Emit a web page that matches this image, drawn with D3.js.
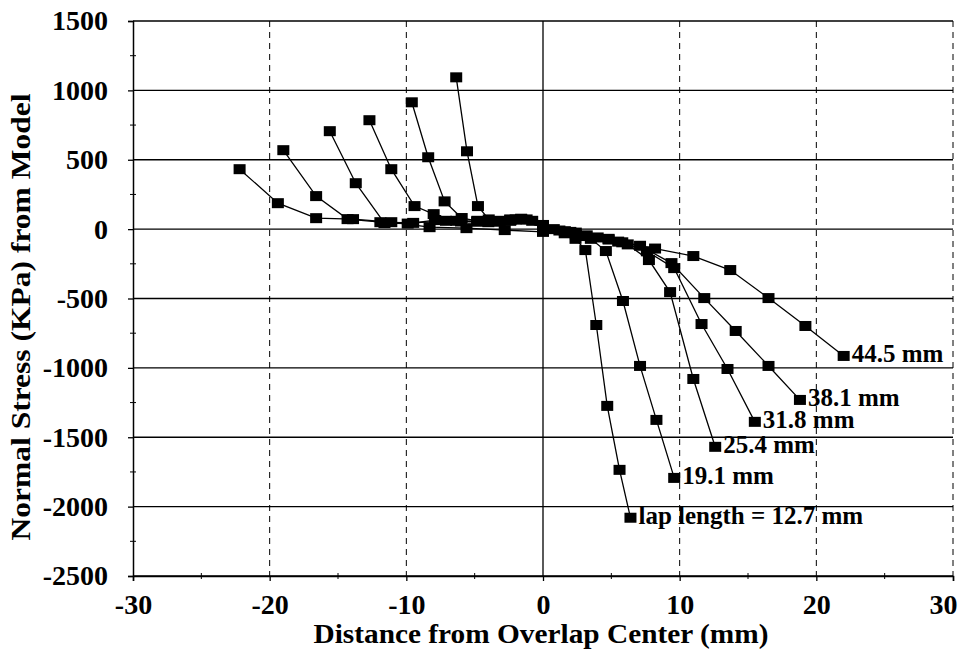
<!DOCTYPE html>
<html>
<head>
<meta charset="utf-8">
<script src="https://cdn.jsdelivr.net/npm/d3@7"></script>
<style>
  body { margin: 0; background: #fff; }
  svg text { font-family: "Liberation Serif", "Times New Roman", serif; font-weight: bold; fill: #000; }
</style>
</head>
<body>
<svg id="chart" width="965" height="656"></svg>
<script>
// --- data (x in mm, normal stress in KPa) ---
const lapLabels = ["lap length = 12.7 mm", "19.1 mm", "25.4 mm", "31.8 mm", "38.1 mm", "44.5 mm"];

const x_12_7 = [-6.35, -5.56, -4.76, -3.97, -3.18, -2.38, -1.59, -0.79, 0, 0.79, 1.59, 2.38, 3.1, 3.9, 4.7, 5.6, 6.4];
const s_12_7 = [1094, 561, 166, 70, 55, 65, 70, 60, 30, 0, -30, -70, -151, -691, -1274, -1735, -2080];

const x_19_1 = [-9.6, -8.4, -7.2, -5.95, -4.8, -3.6, -2.4, -1.2, 0, 1.2, 2.4, 3.5, 4.6, 5.85, 7.1, 8.3, 9.6];
const s_19_1 = [914, 518, 200, 80, 60, 55, 60, 70, 25, -10, -40, -70, -158, -518, -986, -1375, -1793];

const x_25_4 = [-12.7, -11.1, -9.4, -8.0, -6.35, -4.8, -3.2, -1.6, 0, 1.6, 3.2, 4.8, 6.2, 7.75, 9.3, 11.0, 12.6];
const s_25_4 = [785, 432, 166, 108, 60, 55, 60, 75, 20, -15, -45, -75, -110, -223, -454, -1080, -1569];

const x_31_8 = [-15.6, -13.7, -11.6, -9.9, -7.9, -6.0, -4.0, -2.0, 0, 2.0, 4.0, 5.8, 7.6, 9.6, 11.6, 13.5, 15.5];
const s_31_8 = [706, 331, 43, 40, 65, 55, 50, 70, 15, -20, -60, -95, -160, -281, -684, -1008, -1389];

const x_38_1 = [-19.0, -16.6, -14.3, -11.9, -9.5, -7.1, -4.8, -2.4, 0, 2.4, 4.8, 7.1, 9.4, 11.8, 14.1, 16.5, 18.8];
const s_38_1 = [569, 238, 72, 50, 45, 60, 55, 70, 20, -25, -70, -120, -245, -497, -734, -986, -1231];

const x_44_5 = [-22.2, -19.4, -16.6, -13.9, -11.1, -8.3, -5.6, -2.8, 0, 2.8, 5.5, 8.2, 11.0, 13.7, 16.5, 19.2, 22.0];
const s_44_5 = [432, 187, 79, 72, 50, 14, 7, -7, -20, -50, -90, -140, -194, -295, -497, -698, -914];

const xTicks = [-30, -20, -10, 0, 10, 20, 30];
const yTicks = [-2500, -2000, -1500, -1000, -500, 0, 500, 1000, 1500];

const series = [
  { label: lapLabels[0], xs: x_12_7, ys: s_12_7 },
  { label: lapLabels[1], xs: x_19_1, ys: s_19_1 },
  { label: lapLabels[2], xs: x_25_4, ys: s_25_4 },
  { label: lapLabels[3], xs: x_31_8, ys: s_31_8 },
  { label: lapLabels[4], xs: x_38_1, ys: s_38_1 },
  { label: lapLabels[5], xs: x_44_5, ys: s_44_5 }
];

// --- layout ---
const svg = d3.select("#chart");
const plot = { left: 133, right: 953, top: 21, bottom: 576 };

const x = d3.scaleLinear().domain([-30, 30]).range([plot.left, plot.right]);
const y = d3.scaleLinear().domain([-2500, 1500]).range([plot.bottom, plot.top]);

// --- grid ---
const grid = svg.append("g");
grid.selectAll(".hgrid").data(yTicks).join("line")
    .attr("x1", plot.left).attr("x2", plot.right)
    .attr("y1", d => y(d)).attr("y2", d => y(d))
    .attr("stroke", "#000").attr("stroke-width", 1.3);

grid.selectAll(".vgrid").data(xTicks.filter(d => d !== -30)).join("line")
    .attr("x1", d => x(d)).attr("x2", d => x(d))
    .attr("y1", plot.top).attr("y2", plot.bottom)
    .attr("stroke", "#000")
    .attr("stroke-width", d => d === 0 ? 1.3 : 1)
    .attr("stroke-dasharray", d => d === 0 ? null : "6,5");

// --- axes ---
const yAxis = svg.append("g")
    .attr("transform", `translate(${plot.left},0)`)
    .call(d3.axisLeft(y).tickValues(yTicks).tickSize(5).tickPadding(20).tickFormat(d => String(d)));
const xAxis = svg.append("g")
    .attr("transform", `translate(0,${plot.bottom})`)
    .call(d3.axisBottom(x).tickValues(xTicks).tickSize(5).tickPadding(13).tickFormat(d => String(d)));

[xAxis, yAxis].forEach(a => {
    a.attr("font-family", null);
    a.select(".domain").attr("stroke", "#000").attr("stroke-width", 1.5);
    a.selectAll(".tick line").attr("stroke", "#000").attr("stroke-width", 1.3);
    a.selectAll("text").attr("font-size", 28);
});
// last x label sits inside the frame like the original
xAxis.selectAll(".tick text").filter(d => d === 30)
    .attr("text-anchor", "end").attr("dx", 4);

// minor ticks
svg.append("g").selectAll("line")
    .data(d3.range(-2250, 1500, 500)).join("line")
    .attr("x1", plot.left - 3).attr("x2", plot.left + 3)
    .attr("y1", d => y(d)).attr("y2", d => y(d))
    .attr("stroke", "#000").attr("stroke-width", 1);
svg.append("g").selectAll("line")
    .data(d3.range(-25, 30, 10)).join("line")
    .attr("x1", d => x(d)).attr("x2", d => x(d))
    .attr("y1", plot.bottom - 3).attr("y2", plot.bottom + 3)
    .attr("stroke", "#000").attr("stroke-width", 1);

// --- curves ---
const line = d3.line().x(d => x(d[0])).y(d => y(d[1]));

series.forEach(s => {
    const pts = s.xs.map((v, i) => [v, s.ys[i]]);
    const g = svg.append("g");
    g.append("path").datum(pts)
        .attr("d", line)
        .attr("fill", "none").attr("stroke", "#000").attr("stroke-width", 1.3);
    g.selectAll("rect").data(pts).join("rect")
        .attr("x", d => x(d[0]) - 6).attr("y", d => y(d[1]) - 5)
        .attr("width", 12).attr("height", 10)
        .attr("fill", "#000");
    const last = pts[pts.length - 1];
    g.append("text")
        .attr("x", x(last[0]) + 8).attr("y", y(last[1]) + 6)
        .attr("font-size", 25)
        .text(s.label);
});

// --- titles ---
svg.append("text")
    .attr("x", (plot.left + plot.right) / 2 - 2).attr("y", 643)
    .attr("text-anchor", "middle").attr("font-size", 27)
    .attr("textLength", 455).attr("lengthAdjust", "spacingAndGlyphs")
    .text("Distance from Overlap Center (mm)");

svg.append("text")
    .attr("transform", "translate(30,317) rotate(-90)")
    .attr("text-anchor", "middle").attr("font-size", 27)
    .attr("textLength", 447).attr("lengthAdjust", "spacingAndGlyphs")
    .text("Normal Stress (KPa) from Model");
</script>
</body>
</html>
